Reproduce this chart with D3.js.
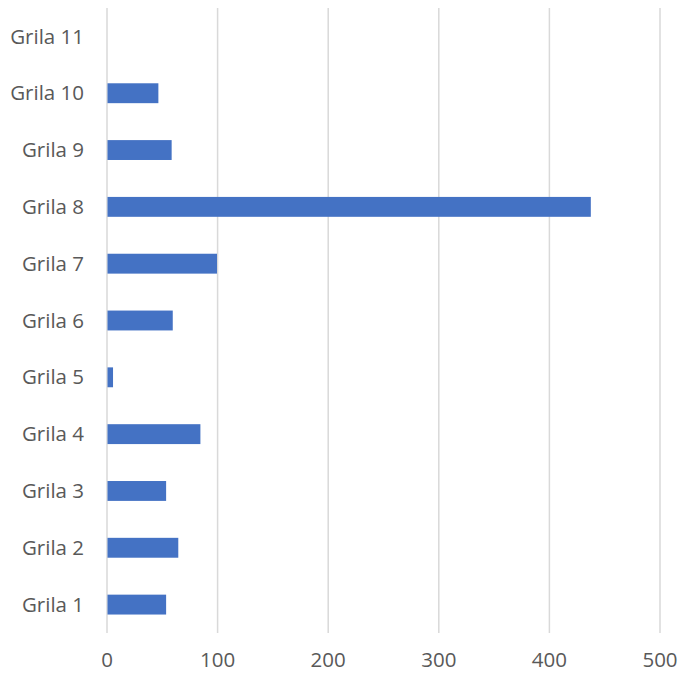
<!DOCTYPE html>
<html>
<head>
<meta charset="utf-8">
<script src="https://cdn.jsdelivr.net/npm/d3@7"></script>
<style>
  body { margin: 0; background: #fff; }
  svg text { font-family: "Open Sans", "Liberation Sans", sans-serif; fill: #595959; }
</style>
</head>
<body>
<svg id="chart" width="681" height="673"></svg>
<script>
// date grafic
const categories = ["Grila 1", "Grila 2", "Grila 3", "Grila 4", "Grila 5", "Grila 6",
                    "Grila 7", "Grila 8", "Grila 9", "Grila 10", "Grila 11"];
const values = [53, 64, 53, 84, 5, 59, 99, 437, 58, 46, 0];
const xTicks = [0, 100, 200, 300, 400, 500];

const margin = { top: 8, right: 21, bottom: 40, left: 107 };
const width = 681, height = 673;

const svg = d3.select("#chart");

const x = d3.scaleLinear()
    .domain([0, 500])
    .range([margin.left, width - margin.right]);

// Grila 1 jos, Grila 11 sus
const y = d3.scaleBand()
    .domain(categories.slice().reverse())
    .range([margin.top, height - margin.bottom])
    .paddingInner(0.65)
    .paddingOuter(0.325);

// linii grila verticale
svg.append("g")
    .selectAll("line")
    .data(xTicks)
    .join("line")
    .attr("x1", d => x(d))
    .attr("x2", d => x(d))
    .attr("y1", margin.top)
    .attr("y2", height - margin.bottom)
    .attr("stroke", "#d9d9d9")
    .attr("stroke-width", 1.5);

// bare
svg.append("g")
    .selectAll("rect")
    .data(categories)
    .join("rect")
    .attr("x", x(0) + 0.5)
    .attr("y", d => y(d))
    .attr("width", (d, i) => Math.max(0, x(values[i]) - x(0)))
    .attr("height", y.bandwidth())
    .attr("fill", "#4472c4");

// etichete categorii
svg.append("g")
    .selectAll("text")
    .data(categories)
    .join("text")
    .attr("x", 84)
    .attr("y", d => y(d) + y.bandwidth() / 2)
    .attr("dy", "0.35em")
    .attr("text-anchor", "end")
    .attr("font-size", 20.5)
    .text(d => d);

// etichete axa x
svg.append("g")
    .selectAll("text")
    .data(xTicks)
    .join("text")
    .attr("x", d => x(d))
    .attr("y", 667)
    .attr("text-anchor", "middle")
    .attr("font-size", 20.5)
    .text(d => d);
</script>
</body>
</html>
